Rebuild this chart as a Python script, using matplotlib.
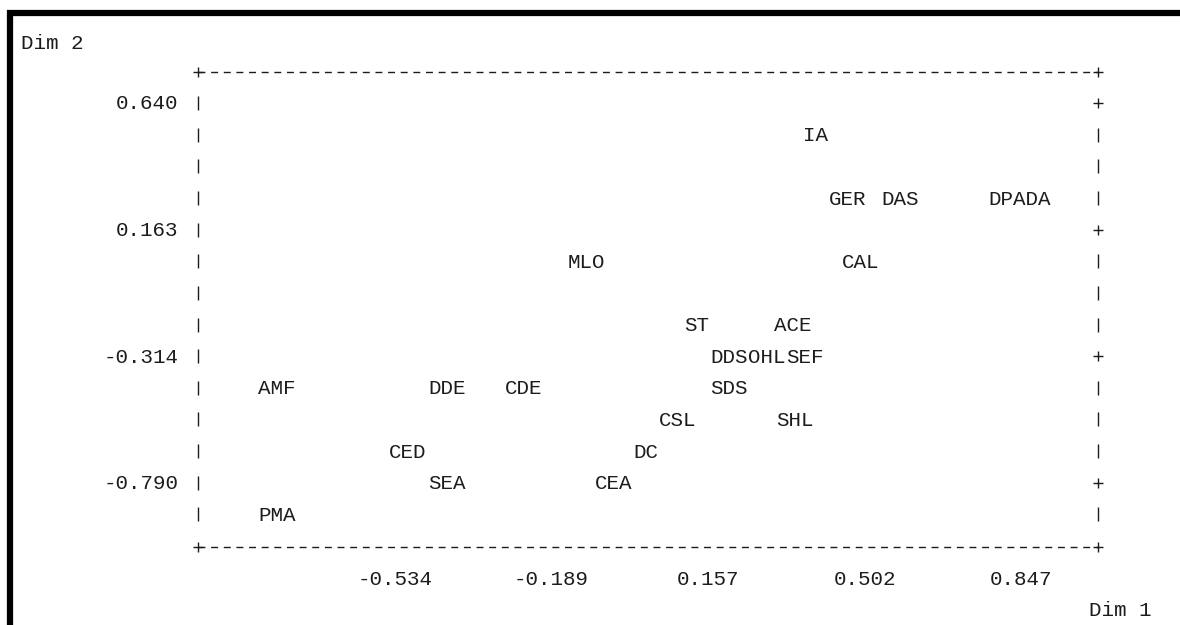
import numpy as np
import matplotlib
matplotlib.use("Agg")
import matplotlib.pyplot as plt
from matplotlib.lines import Line2D
from matplotlib.transforms import offset_copy

# correspondence analysis coordinates for each category
labels = ["IA", "GER", "DAS", "DPADA", "MLO", "CAL", "ST", "ACE",
          "DDS", "OHL", "SEF", "AMF", "DDE", "CDE", "SDS", "CSL",
          "SHL", "CED", "DC", "SEA", "CEA", "PMA"]
dim1 = [0.393, 0.464, 0.580, 0.842, -0.111, 0.493, 0.131, 0.343,
        0.203, 0.286, 0.369, -0.794, -0.419, -0.250, 0.202, 0.090,
        0.347, -0.506, 0.018, -0.420, -0.052, -0.793]
dim2 = [0.521, 0.282, 0.282, 0.282, 0.044, 0.044, -0.195, -0.195,
        -0.314, -0.314, -0.314, -0.433, -0.433, -0.433, -0.433, -0.552,
        -0.552, -0.671, -0.671, -0.790, -0.790, -0.910]

xticks = [-0.534, -0.189, 0.157, 0.502, 0.847]
yticks = [0.640, 0.163, -0.314, -0.790]

FONT = "Liberation Mono"
FS = 15
INK = "#1c1c1c"

fig = plt.figure(figsize=(11.8, 6.25), dpi=100)
ax = fig.add_axes([0, 0, 1, 1])
ax.set_xlim(-1.4048, 1.1966)
ax.set_ylim(-1.3254, 1.0278)
ax.axis("off")

# printer-style frame
left, right = -0.968, 1.016
top, bottom = 0.757, -1.030
step = (yticks[0] - yticks[-1]) / 12
rows = yticks[0] - step * np.arange(14)

for yy in (top, bottom):
    ax.plot([left, right], [yy, yy], color=INK, lw=1.0,
            dashes=(5.0, 4.1), solid_capstyle="butt")
    ax.plot([left, right], [yy, yy], ls="none", marker="+", ms=7,
            mew=1.0, color=INK)

is_tick = np.isclose(rows[:, None], np.array(yticks)[None, :], atol=1e-3).any(axis=1)
ax.plot(np.full(len(rows), left), rows, ls="none", marker="|", ms=10,
        mew=1.0, color=INK)
ax.plot(np.full((~is_tick).sum(), right), rows[~is_tick], ls="none",
        marker="|", ms=10, mew=1.0, color=INK)
ax.plot(np.full(is_tick.sum(), right), rows[is_tick], ls="none",
        marker="+", ms=7, mew=1.0, color=INK)

# text sits with its cap height centred on the row
base = offset_copy(ax.transData, fig=fig, y=-6.5, units="dots")
for lab, x, y in zip(labels, dim1, dim2):
    ax.text(x, y, lab, transform=base, ha="center", va="baseline",
            family=FONT, fontsize=FS, color=INK)

ylab_tr = offset_copy(ax.transData, fig=fig, x=-20, y=-6.5, units="dots")
for v in yticks:
    ax.text(left, v, f"{v:.3f}", transform=ylab_tr, ha="right",
            va="baseline", family=FONT, fontsize=FS, color=INK)

xlab_y = bottom - step
for v in xticks:
    ax.text(v, xlab_y, f"{v:.3f}", transform=base, ha="center",
            va="baseline", family=FONT, fontsize=FS, color=INK)

ax.text(21 / 1180, 1 - 49 / 625, "Dim 2", transform=ax.transAxes,
        ha="left", va="baseline", family=FONT, fontsize=FS, color=INK)
ax.text(1089 / 1180, 1 - 616 / 625, "Dim 1", transform=ax.transAxes,
        ha="left", va="baseline", family=FONT, fontsize=FS, color=INK)

# heavy page edge along the top and left
fig.add_artist(Line2D([7 / 1180, 1], [1 - 12.5 / 625] * 2,
                      transform=fig.transFigure, color="black", lw=4.5,
                      solid_capstyle="butt"))
fig.add_artist(Line2D([10 / 1180] * 2, [0, 1 - 9.5 / 625],
                      transform=fig.transFigure, color="black", lw=4.5,
                      solid_capstyle="butt"))

fig.savefig("out.png", dpi=100, facecolor="white")
